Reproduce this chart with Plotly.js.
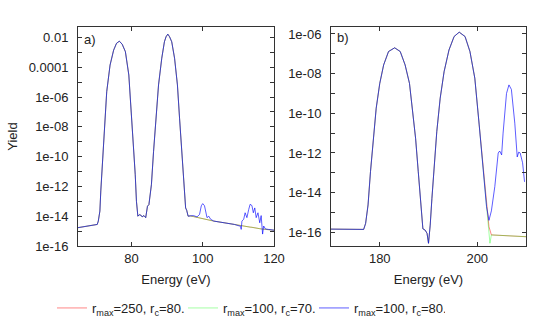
<!DOCTYPE html>
<html>
<head>
<meta charset="utf-8">
<script src="https://cdn.plot.ly/plotly-3.0.1.min.js"></script>
<style>
  body { margin: 0; background: #fff; }
  #chart { width: 545px; height: 332px; }
</style>
</head>
<body>
<div id="chart"></div>
<script>
// panel a) energies (eV) and yields, shared by all three runs up to ~96.5 eV
const energyA = [65, 67.5, 70.4, 70.7, 71.14, 71.4, 71.9, 72.4, 73.06, 74.0, 75.0, 75.8, 76.6, 77.4, 78.3, 79.26, 79.9, 80.5, 81.06, 81.4, 81.8, 82.2, 82.6, 83.0, 83.5, 84.0, 84.5, 84.9, 85.6, 86.2, 86.9, 87.6, 88.5, 89.25, 89.7, 90.2, 90.7, 91.3, 92.1, 92.9, 93.5, 94.2, 94.8, 95.2, 95.5, 95.9, 96.5];
const yieldA = [1.7e-15, 2.2e-15, 2.8e-15, 4.7e-15, 2.2e-14, 5e-13, 7.9e-11, 1.4e-8, 2.3e-6, 1.4e-4, 1.4e-3, 4e-3, 5.6e-3, 3.5e-3, 1.1e-3, 3e-5, 1.8e-7, 1.05e-9, 6.3e-12, 1e-13, 1e-14, 1.25e-14, 1.2e-14, 9e-15, 1.1e-14, 8e-15, 4.7e-14, 6e-14, 1.3e-12, 2.2e-10, 3.8e-8, 6.5e-6, 4e-4, 5.1e-3, 1.1e-2, 1.66e-2, 1.1e-2, 5.1e-3, 4e-4, 6.5e-6, 3.8e-8, 2.2e-10, 1.3e-12, 3.6e-14, 2.5e-14, 1e-14, 1.05e-14];
const tailEnergyA = [97.4, 98.4, 99.1, 99.6, 100.0, 100.5, 100.9, 101.2, 101.7, 102.2, 103.1, 108.9, 110.6, 110.8, 111.0, 111.5, 111.9, 112.4, 112.9, 113.3, 113.8, 114.2, 114.6, 115.0, 115.5, 116.0, 116.4, 116.8, 117.1, 117.6, 118.4, 120];
const tailBlueA = [1.1e-14, 9e-15, 1.3e-14, 5e-14, 7e-14, 5e-14, 1.6e-14, 8e-15, 1e-14, 6.3e-15, 4.7e-15, 2.8e-15, 2.1e-15, 1.3e-15, 4.7e-15, 6.3e-15, 1.7e-14, 8e-15, 2.8e-14, 6.3e-14, 5.2e-14, 1.7e-14, 3.6e-14, 8e-15, 1.7e-14, 3.6e-15, 1.1e-14, 6.3e-16, 2.2e-15, 1.4e-15, 1.3e-15, 1.15e-15];
const tailSmoothA = [9.5e-15, 8.3e-15, 7.6e-15, 7.3e-15, 7.1e-15, 6.7e-15, 6.3e-15, 6e-15, 5.6e-15, 5.3e-15, 4.7e-15, 2.8e-15, 2.3e-15, 2.25e-15, 2.2e-15, 2.1e-15, 2e-15, 1.95e-15, 1.9e-15, 1.85e-15, 1.8e-15, 1.7e-15, 1.6e-15, 1.55e-15, 1.5e-15, 1.45e-15, 1.4e-15, 1.4e-15, 1.35e-15, 1.3e-15, 1.25e-15, 1.15e-15];

// panel b) energies (eV) and yields, shared up to ~202 eV
const energyB = [170, 176.7, 177.1, 177.6, 178.1, 178.65, 179.27, 180.0, 180.8, 181.8, 183.06, 184.2, 185.2, 186.1, 186.7, 187.35, 187.9, 188.45, 188.85, 189.3, 189.7, 190.0, 190.35, 190.7, 191.16, 191.7, 192.4, 193.2, 194.2, 195.25, 196.3, 197.5, 198.5, 199.5, 200.4, 201.2, 201.9];
const yieldB = [1.45e-16, 1.4e-16, 2.8e-16, 2.4e-15, 1.15e-13, 5.5e-12, 1.8e-10, 3.2e-9, 2.75e-8, 1.3e-7, 2.0e-7, 1.3e-7, 2.75e-8, 3.2e-9, 1.8e-10, 5.5e-12, 1.15e-13, 2.4e-15, 1.5e-16, 1.3e-16, 8.9e-17, 2.8e-17, 2.3e-16, 5.1e-15, 2.5e-13, 1.2e-11, 5.8e-10, 1.26e-8, 1.55e-7, 7.4e-7, 1.23e-6, 7.4e-7, 1.3e-7, 5.9e-9, 2.6e-11, 1.6e-13, 2e-15];
const tailEnergyB = [202.4, 202.9, 203.6, 204.3, 204.6, 205.0, 205.3, 206.0, 206.5, 207.0, 207.7, 208.2, 208.5, 208.8, 209.3, 209.7];
const tailBlueB = [4e-16, 1.2e-15, 2e-14, 1e-12, 1.25e-12, 8e-13, 1e-11, 1e-9, 2.7e-9, 1.6e-9, 3.2e-11, 6.3e-13, 1.1e-12, 1e-12, 3.2e-13, 3.5e-14];
const tailEnergyRedB = [202.4, 202.9, 210];
const tailRedB = [1.95e-16, 7.4e-17, 6e-17];
const tailEnergyGreenB = [202.4, 202.6, 202.9, 210];
const tailGreenB = [1.95e-16, 2.8e-17, 7.4e-17, 6e-17];

// axis ticks
const ticksA = [1e-2, 1e-4, 1e-6, 1e-8, 1e-10, 1e-12, 1e-14, 1e-16];
const tickTextA = ["0.01", "0.0001", "1e-06", "1e-08", "1e-10", "1e-12", "1e-14", "1e-16"];
const minorA = [1e-3, 1e-5, 1e-7, 1e-9, 1e-11, 1e-13, 1e-15];
const ticksB = [1e-6, 1e-8, 1e-10, 1e-12, 1e-14, 1e-16];
const tickTextB = ["1e-06", "1e-08", "1e-10", "1e-12", "1e-14", "1e-16"];
const minorB = [1e-7, 1e-9, 1e-11, 1e-13, 1e-15];

const labels = ["r<sub>max</sub>=250, r<sub>c</sub>=80.", "r<sub>max</sub>=100, r<sub>c</sub>=70.", "r<sub>max</sub>=100, r<sub>c</sub>=80."];
const colors = ["#ff0000", "#00ff00", "#0000ff"];

const xsA = energyA.concat(tailEnergyA);
const xsB = energyB;

const traces = [
  // red
  { x: xsA, y: yieldA.concat(tailSmoothA), xaxis: "x", yaxis: "y", name: labels[0], legendgroup: "r", showlegend: true },
  { x: xsB.concat(tailEnergyRedB), y: yieldB.concat(tailRedB), xaxis: "x2", yaxis: "y2", name: labels[0], legendgroup: "r", showlegend: false },
  // green
  { x: xsA, y: yieldA.concat(tailSmoothA), xaxis: "x", yaxis: "y", name: labels[1], legendgroup: "g", showlegend: true },
  { x: xsB.concat(tailEnergyGreenB), y: yieldB.concat(tailGreenB), xaxis: "x2", yaxis: "y2", name: labels[1], legendgroup: "g", showlegend: false },
  // blue
  { x: xsA, y: yieldA.concat(tailBlueA), xaxis: "x", yaxis: "y", name: labels[2], legendgroup: "b", showlegend: true },
  { x: xsB.concat(tailEnergyB), y: yieldB.concat(tailBlueB), xaxis: "x2", yaxis: "y2", name: labels[2], legendgroup: "b", showlegend: false }
];
const colorOf = { r: colors[0], g: colors[1], b: colors[2] };
const opacityOf = { r: 0.6, g: 0.45, b: 0.8 };
traces.forEach(t => {
  t.type = "scatter";
  t.mode = "lines";
  t.line = { color: colorOf[t.legendgroup], width: 0.8 };
  t.opacity = opacityOf[t.legendgroup];
});

const axisFont = { family: "Liberation Sans, Arial, sans-serif", size: 13, color: "#222" };

function xAxis(domain, range, dtick, anchor) {
  return {
    domain: domain, range: range, dtick: dtick, anchor: anchor,
    showgrid: false, zeroline: false,
    showline: true, linecolor: "#333", linewidth: 1, mirror: "allticks",
    ticks: "inside", ticklen: 4, tickcolor: "#333",
    tickfont: axisFont,
    title: { text: "Energy (eV)", font: axisFont, standoff: 10 }
  };
}
function yAxis(domain, range, vals, text, minor, anchor, title) {
  return {
    type: "log", domain: domain, range: range, anchor: anchor,
    tickmode: "array", tickvals: vals, ticktext: text,
    minor: { tickvals: minor, ticks: "inside", ticklen: 4, tickcolor: "#333" },
    showgrid: false, zeroline: false,
    showline: true, linecolor: "#333", linewidth: 1, mirror: "allticks",
    ticks: "inside", ticklen: 4, tickcolor: "#333",
    tickfont: axisFont, ticklabelstandoff: 6,
    title: { text: title, font: axisFont, standoff: 8 }
  };
}

const layout = {
  width: 545, height: 332,
  margin: { l: 0, r: 0, t: 0, b: 0 },
  paper_bgcolor: "#fff", plot_bgcolor: "#fff",
  font: axisFont,
  showlegend: true,
  xaxis: xAxis([78 / 545, 274 / 545], [65, 120], 20, "y"),
  yaxis: yAxis([1 - 246 / 332, 1 - 27 / 332], [-16, -1.3], ticksA, tickTextA, minorA, "x", "Yield"),
  xaxis2: xAxis([331 / 545, 526 / 545], [170, 210], 20, "y2"),
  yaxis2: yAxis([1 - 246 / 332, 1 - 27 / 332], [-16.69, -5.65], ticksB, tickTextB, minorB, "x2", ""),
  legend: {
    orientation: "h", x: 52 / 545, y: 1 - 308 / 332, yanchor: "middle", xanchor: "left",
    font: axisFont, entrywidth: 86, entrywidthmode: "pixels", itemwidth: 30,
    bgcolor: "rgba(0,0,0,0)"
  },
  annotations: [
    { text: "a)", x: 82 / 545, y: 1 - 39 / 332, xref: "paper", yref: "paper", xanchor: "left", yanchor: "middle", showarrow: false, font: axisFont },
    { text: "b)", x: 335 / 545, y: 1 - 38 / 332, xref: "paper", yref: "paper", xanchor: "left", yanchor: "middle", showarrow: false, font: axisFont }
  ]
};

Plotly.newPlot("chart", traces, layout, { staticPlot: true });
</script>
</body>
</html>
